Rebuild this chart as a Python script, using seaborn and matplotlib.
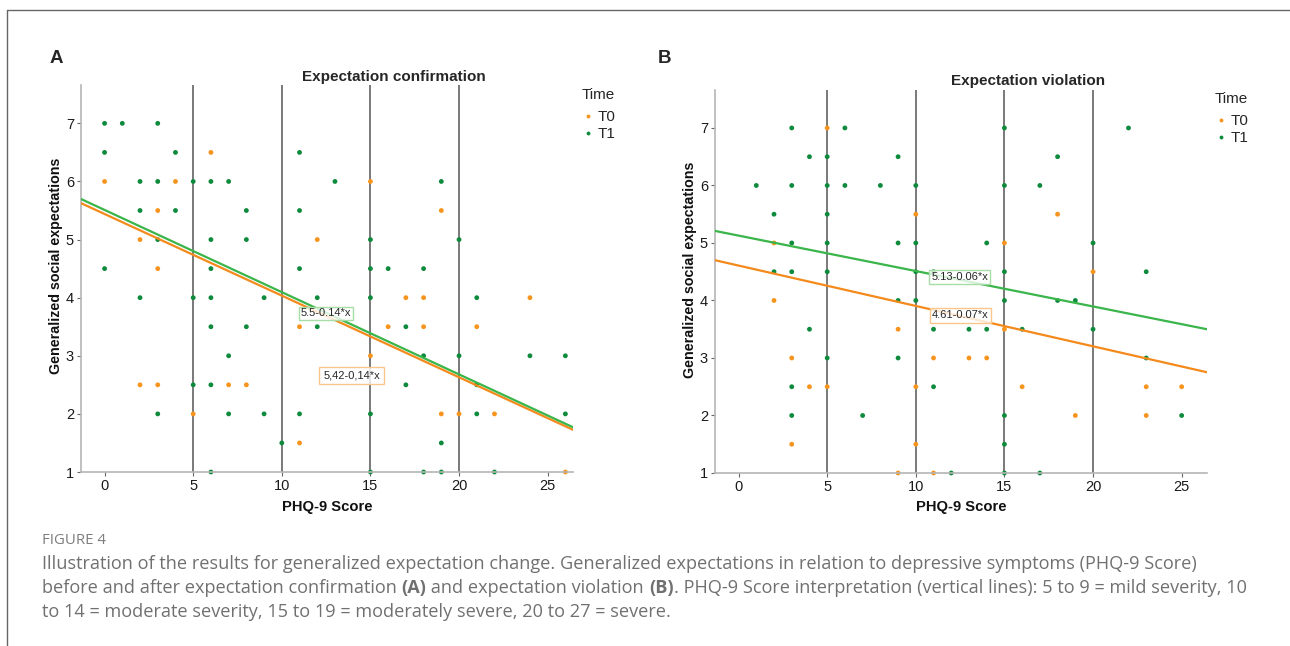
import numpy as np
import pandas as pd
import matplotlib
matplotlib.use('Agg')
import matplotlib.pyplot as plt
import seaborn as sns
from matplotlib.lines import Line2D

# panel A: expectation confirmation
a_t0_x = [0, 6, 4, 3, 2, 12, 3, 11, 2, 3, 7, 8, 5, 11, 15, 19, 17, 18, 24, 16, 18, 21, 15, 19, 20, 22, 26]
a_t0_y = [6, 6.5, 6, 5.5, 5, 5, 4.5, 3.5, 2.5, 2.5, 2.5, 2.5, 2, 1.5, 6, 5.5, 4, 4, 4, 3.5, 3.5, 3.5, 3, 2, 2, 2, 1]
a_t1_x = [0, 1, 3, 0, 4, 11, 2, 3, 5, 6, 7, 13, 19, 2, 4, 8, 11, 3, 6, 8, 15, 20,
          0, 6, 11, 15, 16, 18, 2, 5, 6, 9, 12, 15, 21, 6, 8, 12, 17, 7, 18, 20, 24, 26,
          5, 6, 17, 21, 3, 7, 9, 11, 15, 21, 26, 10, 19, 6, 15, 18, 19, 22]
a_t1_y = [7, 7, 7, 6.5, 6.5, 6.5, 6, 6, 6, 6, 6, 6, 6, 5.5, 5.5, 5.5, 5.5, 5, 5, 5, 5, 5,
          4.5, 4.5, 4.5, 4.5, 4.5, 4.5, 4, 4, 4, 4, 4, 4, 4, 3.5, 3.5, 3.5, 3.5, 3, 3, 3, 3, 3,
          2.5, 2.5, 2.5, 2.5, 2, 2, 2, 2, 2, 2, 2, 1.5, 1.5, 1, 1, 1, 1, 1]

# panel B: expectation violation
b_t0_x = [5, 10, 2, 2, 9, 3, 11, 4, 5, 10, 3, 10, 9, 11, 18, 15, 20, 15, 13, 14, 16, 23, 25, 19, 23]
b_t0_y = [7, 5.5, 5, 4, 3.5, 3, 3, 2.5, 2.5, 2.5, 1.5, 1.5, 1, 1, 5.5, 5, 4.5, 3.5, 3, 3, 2.5, 2.5, 2.5, 2, 2]
b_t1_x = [3, 6, 15, 22, 4, 5, 9, 18, 1, 3, 5, 6, 8, 10, 15, 17, 2, 5, 3, 5, 9, 10, 14, 20,
          2, 3, 5, 10, 11, 15, 23, 9, 10, 15, 18, 19, 4, 11, 13, 14, 16, 20, 5, 9, 23,
          3, 11, 3, 7, 15, 25, 15, 12, 15, 17]
b_t1_y = [7, 7, 7, 7, 6.5, 6.5, 6.5, 6.5, 6, 6, 6, 6, 6, 6, 6, 6, 5.5, 5.5, 5, 5, 5, 5, 5, 5,
          4.5, 4.5, 4.5, 4.5, 4.5, 4.5, 4.5, 4, 4, 4, 4, 4, 3.5, 3.5, 3.5, 3.5, 3.5, 3.5, 3, 3, 3,
          2.5, 2.5, 2, 2, 2, 2, 1.5, 1, 1, 1]

# fitted lines (intercept, slope) per panel
a_fit = {'T0': (5.44, -0.1405), 'T1': (5.51, -0.1415)}
b_fit = {'T0': (4.607, -0.0702), 'T1': (5.128, -0.0616)}
a_labels = {'T0': '5,42-0,14*x', 'T1': '5.5-0.14*x'}
b_labels = {'T0': '4.61-0.07*x', 'T1': '5.13-0.06*x'}
severity_cuts = [5, 10, 15, 20]

W, H = 1290, 646
pt_col = {'T0': '#f7941d', 'T1': '#0e8a3c'}
line_col = {'T0': '#f48a1c', 'T1': '#3ab54a'}
box_col = {'T0': '#fbc68a', 'T1': '#a6dea6'}

sns.set_style('ticks')
plt.rcParams['font.family'] = ['Liberation Sans', 'DejaVu Sans']

fig = plt.figure(figsize=(W / 100, H / 100), dpi=100)
axA = fig.add_axes([81 / W, 1 - 472 / H, 492 / W, 387 / H])
axB = fig.add_axes([715 / W, 1 - 473 / H, 492 / W, 383 / H])


def make_df(t0x, t0y, t1x, t1y):
    return pd.DataFrame({'PHQ': t0x + t1x, 'expect': t0y + t1y,
                         'Time': ['T0'] * len(t0x) + ['T1'] * len(t1x)})


def draw_panel(ax, df, fit, labels, label_pos, legend_xy):
    for c in severity_cuts:
        ax.axvline(c, color='#555555', lw=1.1, zorder=1)
    sns.scatterplot(data=df, x='PHQ', y='expect', hue='Time', palette=pt_col,
                    hue_order=['T0', 'T1'], s=12, edgecolor='none', ax=ax,
                    zorder=2, clip_on=False)
    xs = np.array([-1.33, 26.43])
    for t in ['T0', 'T1']:
        b0, b1 = fit[t]
        ax.plot(xs, b0 + b1 * xs, color=line_col[t], lw=1.6, zorder=3)
        lx, ly, pad = label_pos[t]
        ax.text(lx, ly, labels[t], fontsize=8, ha='center', va='center', zorder=4,
                bbox=dict(boxstyle=f'square,pad={pad}', fc=(1, 1, 1, 0.8),
                          ec=box_col[t], lw=1))
    ax.set_xlim(-1.33, 26.43)
    ax.set_ylim(1, 7.66)
    ax.set_xticks([0, 5, 10, 15, 20, 25])
    ax.set_yticks([1, 2, 3, 4, 5, 6, 7])
    ax.tick_params(labelsize=10.5, length=3, width=0.8, color='#666666',
                   labelcolor='#1a1a1a', pad=2)
    for side in ['top', 'right']:
        ax.spines[side].set_visible(False)
    for side in ['left', 'bottom']:
        ax.spines[side].set_color('#b5b5b5')
        ax.spines[side].set_linewidth(1.2)
    ax.set_xlabel('PHQ-9 Score', fontsize=10.6, fontweight='bold', color='#111111')
    ax.set_ylabel('Generalized social expectations', fontsize=10.3, fontweight='bold',
                  color='#111111')
    sns.move_legend(ax, loc='upper left', bbox_to_anchor=legend_xy,
                    bbox_transform=fig.transFigure, frameon=False, title='Time',
                    fontsize=11, title_fontsize=11, borderpad=0, borderaxespad=0,
                    handlelength=0.8, handletextpad=0.2, labelspacing=0.2,
                    markerscale=0.8)
    leg = ax.get_legend()
    leg._legend_box.align = 'left'
    leg._legend_box.sep = 6


dfA = make_df(a_t0_x, a_t0_y, a_t1_x, a_t1_y)
dfB = make_df(b_t0_x, b_t0_y, b_t1_x, b_t1_y)

draw_panel(axA, dfA, a_fit, a_labels,
           {'T0': (13.94, 2.66, 0.35), 'T1': (12.48, 3.73, 0.15)},
           (582 / W, 1 - 88 / H))
draw_panel(axB, dfB, b_fit, b_labels,
           {'T0': (12.5, 3.74, 0.2), 'T1': (12.47, 4.41, 0.15)},
           (1215 / W, 1 - 92 / H))

for ax, left, top, bottom, ylab_x, ylab_y in [(axA, 81, 85, 472, 56, 266),
                                               (axB, 715, 90, 473, 690, 270)]:
    h = bottom - top
    ax.xaxis.set_label_coords(0.5, -(507 - bottom) / h)
    ax.xaxis.label.set_va('center')
    ax.yaxis.set_label_coords((ylab_x - left) / 492, (bottom - ylab_y) / h)
    ax.yaxis.label.set_va('center')

# panel letters and titles
fig.text(50 / W, 1 - 58.5 / H, 'A', fontsize=13.5, fontweight='bold', va='center')
fig.text(658 / W, 1 - 58.5 / H, 'B', fontsize=13.5, fontweight='bold', va='center')
fig.text(394 / W, 1 - 76.5 / H, 'Expectation confirmation', fontsize=11,
         fontweight='bold', ha='center', va='center')
fig.text(1028 / W, 1 - 81 / H, 'Expectation violation', fontsize=11,
         fontweight='bold', ha='center', va='center')

# outer frame (top and left rules)
fig.add_artist(Line2D([7 / W, 1], [1 - 9.5 / H, 1 - 9.5 / H], color='#666666', lw=1))
fig.add_artist(Line2D([7 / W, 7 / W], [0, 1 - 9.5 / H], color='#666666', lw=1))

# caption
cap_font = ['Open Sans', 'DejaVu Sans']
cap_size = 13.1
cap_color = '#707070'
fig.text(42 / W, 1 - 541 / H, 'FIGURE 4', fontsize=10.8, color='#7d7d7d',
         family=cap_font, va='center')

renderer = fig.canvas.get_renderer()


def run_width(s, weight):
    t1 = fig.text(0, 0, s + '|', fontsize=cap_size, fontweight=weight, family=cap_font)
    t2 = fig.text(0, 0, '|', fontsize=cap_size, fontweight=weight, family=cap_font)
    w = t1.get_window_extent(renderer).width - t2.get_window_extent(renderer).width
    t1.remove()
    t2.remove()
    return w


def caption_line(y_px, runs):
    x = 42.0
    for s, weight in runs:
        fig.text(x / W, 1 - y_px / H, s, fontsize=cap_size, fontweight=weight,
                 color=cap_color, family=cap_font, va='center')
        x += run_width(s, weight)


caption_line(564, [('Illustration of the results for generalized expectation change. '
                    'Generalized expectations in relation to depressive symptoms (PHQ-9 Score)',
                    'normal')])
caption_line(588, [('before and after expectation confirmation ', 'normal'), ('(A)', 'bold'),
                   (' and expectation violation ', 'normal'), ('(B)', 'bold'),
                   ('. PHQ-9 Score interpretation (vertical lines): 5 to 9 = mild severity, 10',
                    'normal')])
caption_line(612, [('to 14 = moderate severity, 15 to 19 = moderately severe, 20 to 27 = severe.',
                    'normal')])

fig.savefig('out.png', dpi=100)
